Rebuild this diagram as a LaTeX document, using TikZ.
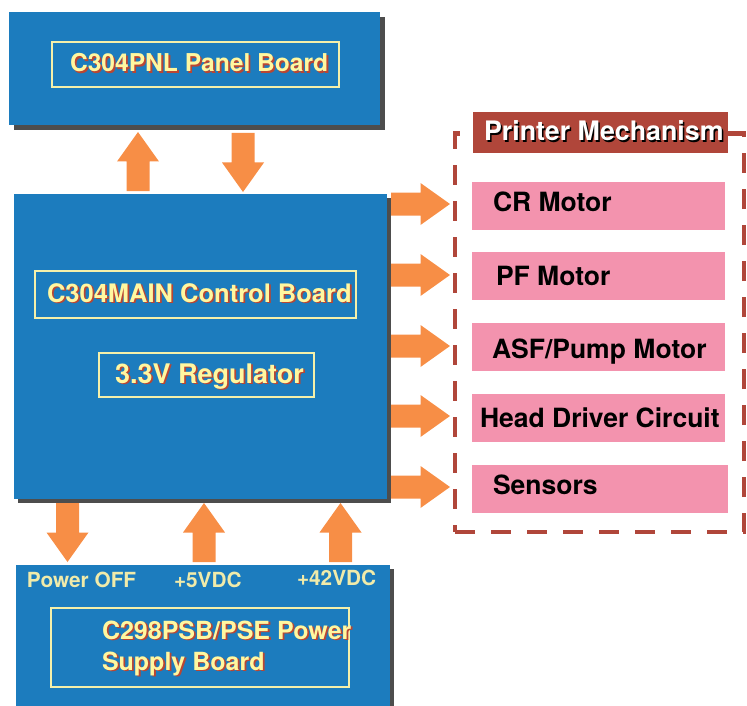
\documentclass[tikz,border=0pt]{standalone}
\usepackage{fontspec}
\setmainfont{TeX Gyre Heros}
\usetikzlibrary{calc,shadows}
\definecolor{boardc}{RGB}{28,124,190}
\definecolor{shadowc}{RGB}{77,77,77}
\definecolor{arrowc}{RGB}{247,142,70}
\definecolor{pinkc}{RGB}{243,147,174}
\definecolor{brownc}{RGB}{176,70,58}
\definecolor{yellowt}{RGB}{255,247,160}
\definecolor{boxline}{RGB}{245,240,170}
\definecolor{labelc}{RGB}{240,235,170}
\definecolor{tshadow}{RGB}{186,70,50}
\begin{document}
\begin{tikzpicture}[x=1pt,y=-1pt,
  board/.style={fill=boardc, inner sep=0, outer sep=0, anchor=north west,
     drop shadow={opacity=1, fill=shadowc, shadow xshift=#1pt, shadow yshift=-#1pt}},
  board/.default=4,
  inbox/.style={draw=boxline, line width=1.4pt, inner sep=0, outer sep=0, anchor=north west},
  pinkbox/.style={fill=pinkc, inner sep=0, outer sep=0, anchor=north west, minimum height=48pt},
  txt/.style={inner sep=0, outer sep=0, anchor=base west},
  pics/barrow/.style={code={\fill[arrowc] (0,-11.5) -- (29.5,-11.5) -- (29.5,-21) -- (59,0) -- (29.5,21) -- (29.5,11.5) -- (0,11.5) -- cycle;}}
]
\useasboundingbox (0,0) rectangle (747,706);

% boards
\node[board=5, minimum width=371pt, minimum height=113pt] (panel) at (9,12) {};
\node[board, minimum width=373pt, minimum height=305pt] (main) at (14,194) {};
\node[board, minimum width=374pt, minimum height=141pt] (psb) at (16,565) {};

% inner boxes
\node[inbox, minimum width=287pt, minimum height=45pt] (panelin) at (52,42) {};
\node[inbox, minimum width=321pt, minimum height=47pt] (mainin) at (35,271) {};
\node[inbox, minimum width=215pt, minimum height=44pt] (regin) at (99,353) {};
\node[inbox, minimum width=298pt, minimum height=79pt] (psbin) at (51,608) {};

% board texts (yellow with red shadow)
\begin{scope}[every node/.append style={text=yellowt}]
\node[txt, text=tshadow] at (71.8,73.8) {\fontsize{24.6}{24.6}\selectfont\bfseries C304PNL Panel Board};
\node[txt] (paneltxt) at (70,72) {\fontsize{24.6}{24.6}\selectfont\bfseries C304PNL Panel Board};
\node[txt, text=tshadow] at (48.8,303.8) {\fontsize{25.5}{25.5}\selectfont\bfseries C304MAIN Control Board};
\node[txt] (maintxt) at (47,302) {\fontsize{25.5}{25.5}\selectfont\bfseries C304MAIN Control Board};
\node[txt, text=tshadow] at (116.8,384.8) {\fontsize{27}{27}\selectfont\bfseries 3.3V Regulator};
\node[txt] (regtxt) at (115,383) {\fontsize{27}{27}\selectfont\bfseries 3.3V Regulator};
\node[txt, text=tshadow] at (103.8,640.8) {\fontsize{25}{25}\selectfont\bfseries C298PSB/PSE Power};
\node[txt] (psbtxt1) at (102,639) {\fontsize{25}{25}\selectfont\bfseries C298PSB/PSE Power};
\node[txt, text=tshadow] at (103.8,671.8) {\fontsize{25}{25}\selectfont\bfseries Supply Board};
\node[txt] (psbtxt2) at (102,670) {\fontsize{25}{25}\selectfont\bfseries Supply Board};
\end{scope}

% power labels
\begin{scope}[every node/.append style={text=labelc, font=\fontsize{20.8}{20.8}\selectfont\bfseries}]
\node[txt] (poff) at (27,587) {Power OFF};
\node[txt] (p5) at (174,587) {+5VDC};
\node[txt] (p42) at (297,585) {+42VDC};
\end{scope}

% printer mechanism
\node[draw=brownc, line width=4.6pt, dash pattern=on 20pt off 16pt, inner sep=0, outer sep=0,
      anchor=north west, minimum width=289pt, minimum height=398.5pt] (mech) at (455,133.5) {};
\node[fill=brownc, inner sep=0, outer sep=0, anchor=north west, minimum width=255pt, minimum height=41pt] (mechhead) at (473,112) {};
\node[txt, text=black] at (485.5,142.5) {\fontsize{26.8}{26.8}\selectfont\bfseries Printer Mechanism};
\node[txt, text=white] (mechtxt) at (484,141) {\fontsize{26.8}{26.8}\selectfont\bfseries Printer Mechanism};

\node[pinkbox, minimum width=253pt] (cr) at (472,182) {};
\node[pinkbox, minimum width=253pt] (pf) at (472,252) {};
\node[pinkbox, minimum width=253pt] (asf) at (472,323) {};
\node[pinkbox, minimum width=253pt] (head) at (472,394) {};
\node[pinkbox, minimum width=256pt] (sens) at (472,465) {};
\begin{scope}[every node/.append style={text=black, font=\fontsize{26.5}{26.5}\selectfont\bfseries}]
\node[txt] (crtxt) at (493,211) {CR Motor};
\node[txt] (pftxt) at (496,285) {PF Motor};
\node[txt] (asftxt) at (492,358) {ASF/Pump Motor};
\node[txt] (headtxt) at (480,427) {Head Driver Circuit};
\node[txt] (senstxt) at (493,494) {Sensors};
\end{scope}

% block arrows
\pic[rotate=90] at (138,191) {barrow};
\pic[rotate=-90] at (243,133) {barrow};
\foreach \yy in {204,275,346,416,487} \pic at (391,\yy) {barrow};
\pic[rotate=-90] at (67.5,503) {barrow};
\pic[rotate=90] at (204,562) {barrow};
\pic[rotate=90] at (340.5,562) {barrow};
\end{tikzpicture}
\end{document}
